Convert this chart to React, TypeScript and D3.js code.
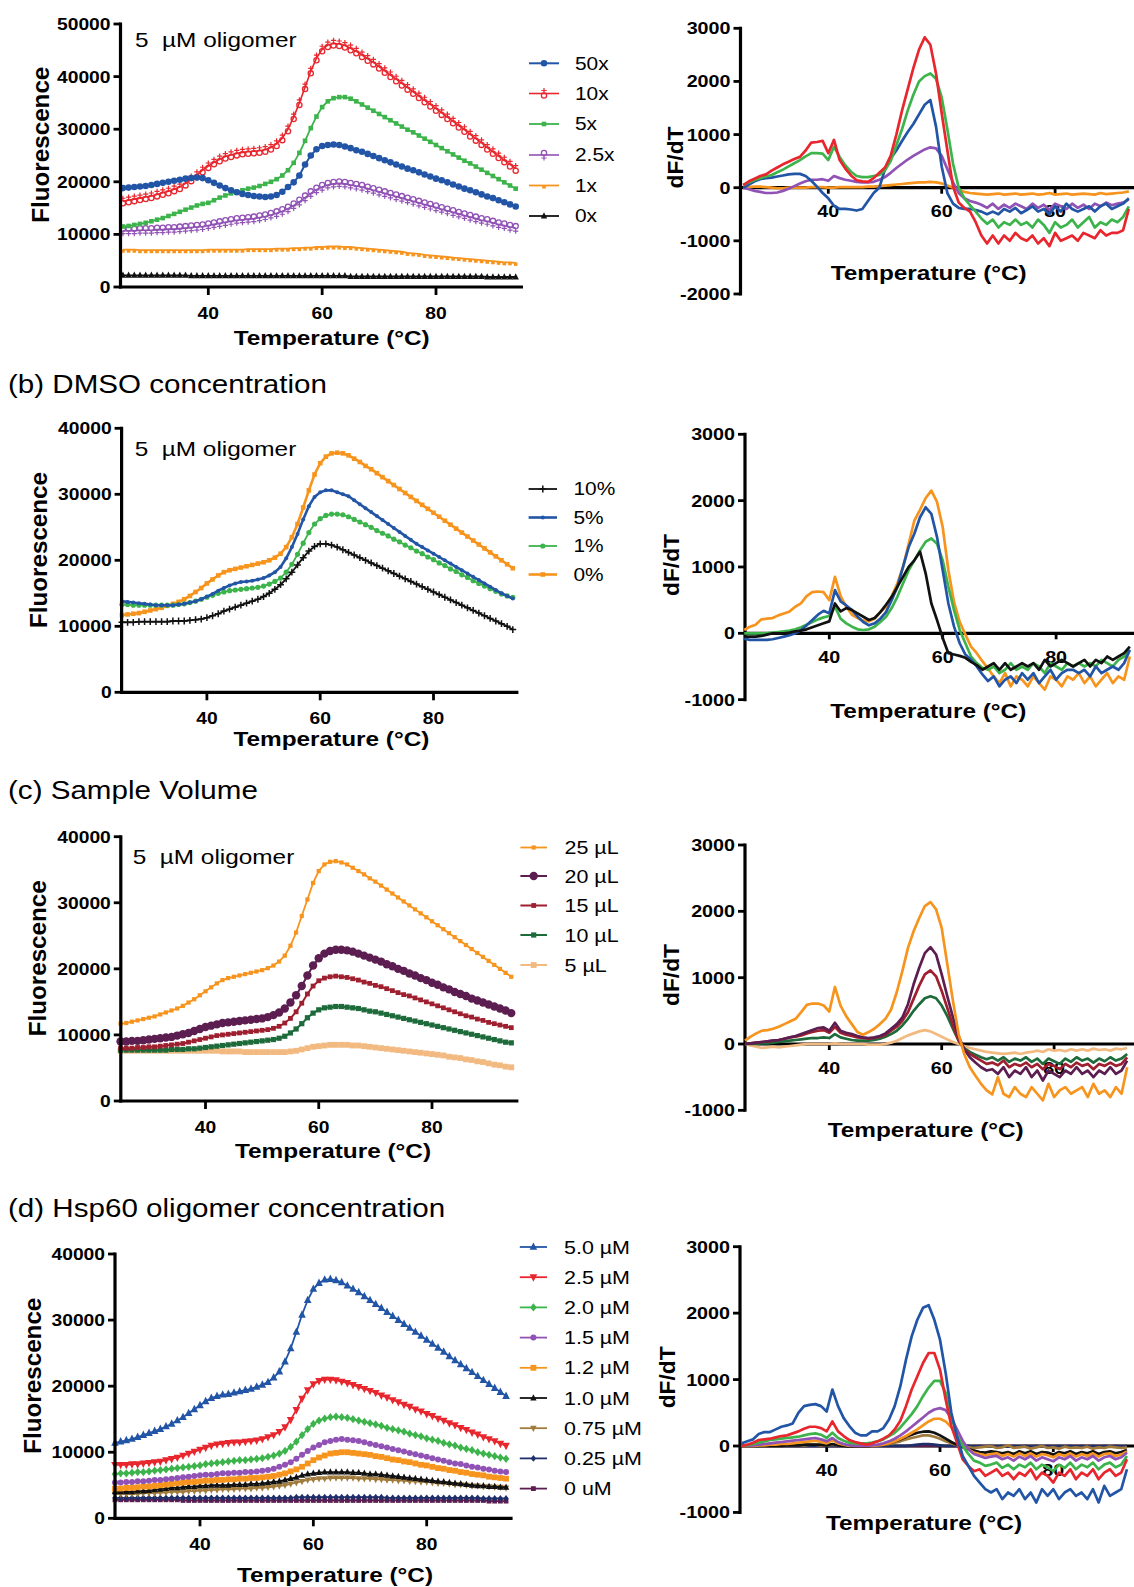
import React from 'react';
import * as d3 from 'd3';

const FONT = "'Liberation Sans', Arial, Helvetica, sans-serif";
const SX = 1.16; // horizontal stretch of the lettering in the reference

// ---------- temperature grids (°C) ----------
const T_F = [25,26,27,28,29,30,31,32,33,34,35,36,37,38,39,40,41,42,43,44,45,46,47,48,49,50,51,52,53,54,55,56,57,58,59,60,61,62,63,64,65,66,67,68,69,70,71,72,73,74,75,76,77,78,79,80,81,82,83,84,85,86,87,88,89,90,91,92,93,94];
const T_D = [25,26,27,28,29,30,31,32,33,34,35,36,37,38,39,40,41,42,43,44,45,46,47,48,49,50,51,52,53,54,55,56,57,58,59,60,61,62,63,64,65,66,67,68,69,70,71,72,73,74,75,76,77,78,79,80,81,82,83,84,85,86,87,88,89,90,91,92,93];

const X_TICKS = [40, 60, 80];
const Y_TICKS_50K = [0, 10000, 20000, 30000, 40000, 50000];
const Y_TICKS_40K = [0, 10000, 20000, 30000, 40000];
const Y_TICKS_D_A = [-2000, -1000, 0, 1000, 2000, 3000];
const Y_TICKS_D = [-1000, 0, 1000, 2000, 3000];

// ---------- (a) dye concentration ----------
const A_NAMES = ['50x', '10x', '5x', '2.5x', '1x', '0x'];
const A_F_50X = [
18800,18900,19000,19100,19200,19400,19600,19800,20000,20200,
20400,20600,20700,20800,20700,20300,19800,19300,18800,18400,
18000,17700,17500,17300,17200,17100,17200,17500,18100,19000,
19900,21200,23300,25000,26200,26800,27000,27100,27000,26700,
26400,26000,25700,25300,24900,24500,24100,23700,23300,22900,
22500,22200,21800,21400,21000,20600,20300,19900,19500,19100,
18700,18400,18000,17600,17200,16900,16500,16100,15700,15300];
const A_F_10X = [
16300,16500,16700,16900,17100,17300,17600,17900,18200,18600,
19000,19700,20500,21300,22200,23000,23700,24300,24800,25100,
25400,25600,25700,25800,25900,26100,26500,27200,28300,30000,
32300,35000,38000,41000,43500,45200,46000,46300,46200,45900,
45400,44800,44100,43400,42700,41900,41100,40300,39500,38700,
37900,37100,36300,35500,34700,33900,33100,32300,31500,30700,
29900,29000,28200,27400,26500,25700,24900,24100,23300,22500];
const A_F_5X = [
11500,11600,11800,12000,12200,12500,12800,13100,13500,13900,
14300,14700,15100,15500,15800,16000,16500,17000,17400,17800,
18100,18400,18700,18900,19200,19600,20000,20500,21200,22200,
23600,25500,27800,30200,32400,34200,35300,35900,36100,36100,
35800,35300,34700,34100,33500,32900,32300,31700,31100,30500,
29900,29400,28800,28200,27600,27000,26400,25800,25200,24600,
24000,23500,22900,22300,21700,21100,20500,19900,19300,18700];
const A_F_2P5X = [
10700,10700,10700,10800,10800,10800,10900,10900,11000,11000,
11100,11200,11300,11400,11500,11700,11900,12100,12300,12500,
12700,12800,12900,13000,13200,13400,13700,14000,14400,14900,
15500,16200,17000,17800,18500,19000,19400,19600,19700,19600,
19400,19200,19000,18700,18400,18100,17800,17500,17200,16900,
16600,16300,16000,15700,15400,15100,14800,14500,14200,13900,
13600,13300,13000,12700,12500,12200,11900,11700,11400,11200];
const A_F_1X = [
7100,7100,7100,7000,7000,7000,7000,7000,7000,7000,
7000,7000,7000,7000,7000,7100,7100,7100,7100,7100,
7100,7100,7200,7200,7200,7200,7200,7300,7300,7300,
7400,7400,7500,7500,7600,7600,7700,7700,7700,7600,
7600,7500,7400,7300,7200,7100,7000,6900,6800,6700,
6500,6400,6300,6100,6000,5900,5800,5700,5600,5500,
5400,5300,5200,5100,5000,4900,4800,4700,4700,4600];
const A_F_0X = [
2200,2200,2200,2200,2200,2200,2200,2200,2200,2200,
2200,2200,2100,2100,2100,2100,2100,2100,2100,2100,
2100,2100,2100,2100,2100,2100,2100,2100,2100,2100,
2100,2100,2100,2100,2100,2100,2100,2100,2100,2100,
2000,2000,2000,2000,2000,2000,2000,2000,2000,2000,
2000,2000,2000,2000,2000,2000,2000,2000,2000,2000,
2000,2000,2000,2000,1900,1900,1900,1900,1900,1900];

const A_D_RED = [
50,120,170,220,250,320,380,440,490,540,
580,700,850,860,880,650,900,520,360,230,
140,120,110,180,280,380,600,1000,1450,1850,
2250,2600,2830,2690,2150,1400,700,20,-280,-380,
-450,-650,-900,-1050,-900,-1050,-900,-1000,-850,-950,
-1000,-900,-1050,-950,-1100,-850,-1000,-950,-900,-1000,
-850,-900,-950,-800,-900,-850,-850,-800,-400];
const A_D_GREEN = [
50,100,145,180,210,240,290,340,400,460,
520,590,650,650,640,520,770,580,420,300,
220,200,200,220,240,330,500,800,1100,1450,
1750,2000,2100,2150,2050,1700,1100,450,0,-200,
-330,-450,-580,-680,-600,-750,-650,-700,-600,-700,
-650,-750,-600,-700,-850,-650,-750,-700,-600,-750,
-650,-550,-750,-650,-700,-600,-650,-550,-350];
const A_D_BLUE = [
0,60,120,160,180,190,210,230,250,260,
260,220,130,20,-100,-200,-340,-400,-400,-410,
-430,-400,-250,-100,0,350,550,700,880,1050,
1200,1380,1560,1650,1150,400,-100,-300,-380,-400,
-400,-420,-450,-500,-450,-500,-400,-450,-380,-480,
-420,-350,-450,-400,-500,-350,-450,-300,-400,-450,
-400,-350,-450,-350,-300,-400,-350,-300,-200];
const A_D_PURPLE = [
0,-30,-60,-80,-100,-100,-90,-60,-20,30,
80,120,150,150,160,130,220,180,150,130,
110,100,100,110,150,200,280,370,450,530,
600,660,720,760,740,600,350,100,-100,-200,
-250,-280,-320,-380,-300,-400,-320,-380,-300,-350,
-400,-300,-380,-320,-420,-300,-350,-400,-300,-380,
-320,-400,-300,-350,-280,-330,-300,-280,-220];
const A_D_ORANGE = [
0,10,20,20,10,0,-10,-10,0,0,
0,0,10,10,10,0,0,10,10,10,
10,10,20,20,30,40,50,60,70,80,
90,100,100,110,100,80,40,0,-40,-80,
-100,-110,-120,-130,-120,-110,-130,-120,-110,-130,
-120,-110,-130,-120,-100,-130,-120,-110,-130,-120,
-110,-120,-130,-100,-120,-110,-100,-90,-70];

// ---------- (b) DMSO concentration ----------
const B_NAMES = ['10%', '5%', '1%', '0%'];
const B_F_10 = [
10600,10600,10600,10700,10700,10700,10700,10700,10700,10800,
10800,10800,10900,11000,11100,11300,11600,11900,12300,12600,
12900,13200,13500,13800,14100,14500,15000,15600,16300,17200,
18200,19300,20400,21400,22100,22500,22500,22300,22000,21600,
21200,20800,20400,20000,19600,19200,18800,18400,18000,17600,
17200,16800,16400,16000,15600,15200,14800,14400,14000,13600,
13200,12800,12400,12000,11600,11200,10800,10400,10000,9500];
const B_F_5 = [
13800,13700,13600,13500,13400,13300,13200,13200,13200,13200,
13300,13400,13600,13800,14100,14500,14900,15400,15800,16200,
16500,16700,16800,16900,17100,17300,17700,18200,19000,20300,
22000,24000,26200,28200,29600,30300,30600,30600,30300,30000,
29700,29100,28500,27900,27300,26700,26100,25500,24900,24300,
23700,23100,22500,22000,21500,21000,20500,20000,19500,19000,
18500,18000,17500,17000,16500,16000,15500,15000,14600,14200];
const B_F_1 = [
13300,13300,13200,13200,13200,13200,13200,13200,13200,13200,
13300,13400,13600,13800,14100,14400,14700,15000,15200,15400,
15500,15600,15700,15800,15900,16100,16400,16800,17300,18200,
19400,20900,22600,24200,25500,26300,26800,27000,27000,26900,
26600,26200,25800,25400,25000,24500,24100,23700,23200,22800,
22300,21900,21400,21000,20500,20100,19600,19200,18700,18300,
17800,17400,16900,16500,16100,15700,15300,14900,14600,14400];
const B_F_0 = [
11700,11800,11900,12000,12200,12400,12600,12800,13100,13400,
13700,14100,14600,15200,15800,16500,17100,17700,18200,18500,
18700,18900,19100,19300,19500,19700,20000,20400,21000,22000,
23500,25500,28000,30600,33000,34700,35700,36200,36300,36200,
35900,35400,34900,34300,33800,33200,32600,32000,31400,30800,
30200,29600,29000,28400,27800,27200,26600,26000,25400,24800,
24200,23600,23000,22400,21800,21200,20600,20000,19400,18800];

const B_D_ORANGE = [
50,100,130,210,220,230,270,300,330,400,
450,560,620,630,620,500,850,560,400,280,
230,190,180,220,320,400,560,750,1000,1350,
1700,1860,2040,2150,1980,1600,950,470,170,-20,
-200,-300,-420,-530,-650,-750,-600,-800,-650,-700,
-800,-650,-750,-850,-650,-700,-800,-650,-700,-600,
-750,-650,-800,-700,-600,-750,-650,-700,-350];
const B_D_BLUE = [
-80,-100,-100,-100,-100,-90,-70,-50,-30,0,
50,120,200,280,340,300,650,480,420,350,
250,170,120,150,220,320,500,700,1000,1300,
1500,1750,1900,1800,1450,950,450,100,-150,-320,
-400,-500,-620,-720,-650,-800,-700,-650,-750,-600,
-700,-600,-750,-650,-550,-700,-600,-550,-550,-600,
-550,-650,-500,-600,-550,-500,-550,-450,-250];
const B_D_GREEN = [
0,0,0,0,0,10,20,30,40,60,
90,130,170,210,240,260,400,220,150,100,
60,50,60,100,170,250,380,550,750,950,
1100,1250,1380,1430,1350,1100,700,350,50,-150,
-350,-450,-520,-550,-500,-600,-550,-450,-550,-500,
-550,-450,-500,-600,-450,-500,-550,-450,-500,-450,
-500,-450,-500,-400,-450,-500,-400,-350,-250];
const B_D_BLACK = [
-50,-50,-50,-40,-20,0,0,0,10,30,
40,60,90,120,150,180,450,330,380,350,
300,250,200,230,320,430,550,700,850,1000,
1100,1230,900,450,200,-70,-300,-320,-340,-370,
-430,-480,-550,-500,-450,-550,-450,-550,-500,-450,
-500,-450,-550,-400,-500,-450,-400,-450,-500,-450,
-400,-500,-400,-450,-350,-400,-350,-300,-200];

// ---------- (c) sample volume ----------
const C_NAMES = ['25 µL', '20 µL', '15 µL', '10 µL', '5 µL'];
const C_F_25 = [
11700,11800,12000,12200,12400,12600,12800,13100,13400,13700,
14000,14400,14900,15400,16000,16600,17200,17800,18300,18600,
18800,19000,19200,19400,19600,19800,20100,20500,21100,22000,
23500,25500,28000,30500,33000,34800,35800,36200,36300,36100,
35800,35300,34800,34300,33700,33200,32600,32000,31400,30800,
30200,29600,29000,28400,27800,27200,26600,26000,25400,24800,
24200,23600,23000,22400,21800,21200,20600,20000,19400,18800];
const C_F_20 = [
9000,9000,9100,9100,9200,9300,9400,9500,9600,9700,
9900,10100,10300,10600,10900,11200,11400,11600,11800,11900,
12000,12100,12200,12300,12400,12500,12700,13000,13400,14000,
14900,16000,17400,19000,20500,21600,22300,22700,22900,22900,
22800,22600,22300,22000,21700,21400,21100,20700,20400,20000,
19700,19300,19000,18600,18300,17900,17600,17200,16900,16500,
16200,15900,15500,15200,14900,14600,14300,14000,13700,13300];
const C_F_15 = [
8000,8000,8000,8100,8100,8200,8200,8300,8400,8500,
8600,8700,8900,9100,9300,9500,9700,9900,10000,10100,
10200,10300,10400,10500,10600,10700,10800,11000,11300,11800,
12500,13500,14800,16200,17400,18200,18600,18800,18900,18800,
18700,18500,18300,18000,17800,17500,17300,17000,16700,16400,
16100,15900,15600,15300,15000,14700,14400,14100,13800,13500,
13200,12900,12700,12400,12200,11900,11700,11500,11300,11100];
const C_F_10 = [
7700,7700,7700,7700,7700,7700,7700,7700,7700,7800,
7800,7800,7900,7900,8000,8100,8200,8300,8400,8500,
8600,8700,8800,8900,9000,9100,9200,9300,9500,9800,
10300,10900,11700,12600,13300,13800,14100,14200,14300,14300,
14200,14100,14000,13800,13600,13500,13300,13100,12900,12700,
12500,12300,12100,11900,11700,11500,11300,11100,10900,10700,
10500,10300,10100,9900,9700,9500,9300,9100,8900,8800];
const C_F_5 = [
7600,7600,7600,7600,7600,7600,7600,7600,7600,7600,
7600,7600,7600,7600,7600,7600,7600,7600,7500,7500,
7500,7500,7400,7400,7400,7400,7400,7400,7400,7400,
7500,7600,7800,8000,8200,8300,8400,8500,8500,8500,
8500,8400,8400,8300,8200,8100,8000,7900,7800,7700,
7600,7500,7400,7300,7200,7100,7000,6900,6700,6600,
6500,6300,6200,6000,5900,5700,5500,5400,5200,5100];

const C_D_ORANGE = [
50,110,160,200,210,230,260,300,340,380,
480,590,610,610,580,490,860,580,420,300,
180,140,180,230,300,380,520,780,1100,1450,
1700,1900,2080,2140,2030,1750,1200,650,150,-150,
-350,-480,-600,-700,-760,-500,-750,-800,-650,-750,
-800,-650,-750,-850,-600,-800,-700,-650,-750,-700,
-650,-800,-600,-750,-700,-800,-650,-750,-350];
const C_D_PURPLE = [
0,10,20,30,40,50,60,80,100,120,
150,180,210,240,250,200,320,200,170,150,
120,100,90,100,120,160,230,300,400,600,
900,1150,1370,1460,1350,1050,720,400,120,-80,
-200,-280,-350,-400,-380,-450,-350,-500,-400,-450,
-350,-500,-400,-550,-400,-450,-500,-400,-450,-350,
-450,-400,-500,-400,-450,-350,-450,-400,-250];
const C_D_RED = [
0,10,20,30,40,50,60,80,100,110,
130,160,180,200,210,170,260,170,140,120,
100,90,80,90,110,140,200,260,350,480,
680,880,1050,1110,1020,800,540,280,60,-80,
-150,-200,-250,-300,-280,-320,-250,-350,-300,-330,
-280,-350,-300,-380,-300,-330,-380,-300,-350,-280,
-330,-300,-380,-300,-330,-280,-330,-300,-200];
const C_D_GREEN = [
0,0,0,10,10,20,30,40,50,60,
70,80,90,90,100,90,150,100,80,60,
50,50,50,60,80,110,150,200,280,380,
500,600,690,720,690,580,420,230,50,-60,
-120,-160,-200,-230,-200,-250,-200,-270,-220,-250,
-200,-270,-220,-300,-220,-260,-300,-220,-270,-200,
-250,-220,-280,-220,-260,-200,-250,-220,-150];
const C_D_PEACH = [
0,-20,-40,-60,-50,-40,-50,-40,-30,-20,
-10,0,0,0,0,0,10,0,0,0,
0,0,-10,-10,-10,0,20,50,90,130,
160,190,210,190,150,110,70,30,0,-30,
-60,-80,-100,-120,-130,-140,-150,-140,-130,-150,
-130,-120,-100,-120,-80,-100,-90,-110,-80,-100,
-80,-100,-70,-90,-80,-100,-70,-80,-60];

// ---------- (d) Hsp60 oligomer concentration ----------
const D_NAMES = ['5.0 µM', '2.5 µM', '2.0 µM', '1.5 µM', '1.2 µM', '1.0 µM', '0.75 µM', '0.25 µM', '0 uM'];
const D_F_50 = [
11400,11600,11800,12000,12300,12600,12900,13200,13500,13900,
14300,14800,15300,15900,16500,17100,17700,18200,18500,18700,
18800,19000,19200,19400,19600,19900,20200,20600,21300,22200,
23700,25700,28200,30800,33000,34700,35600,36100,36200,36000,
35700,35200,34700,34200,33600,33000,32400,31800,31200,30600,
30000,29400,28800,28200,27600,27000,26400,25800,25200,24500,
23900,23300,22700,22100,21500,20900,20300,19700,19100,18500];
const D_F_25 = [
8100,8100,8100,8200,8200,8300,8400,8500,8600,8800,
9000,9200,9500,9800,10100,10400,10700,11000,11200,11300,
11400,11500,11500,11600,11700,11800,12000,12300,12600,13100,
13800,14900,16400,18100,19400,20300,20800,21000,21000,20900,
20700,20500,20200,19900,19600,19300,19000,18600,18300,17900,
17600,17200,16900,16500,16200,15800,15500,15100,14800,14400,
14100,13700,13400,13000,12700,12300,12000,11700,11300,11000];
const D_F_20 = [
6700,6800,6800,6900,7000,7000,7100,7200,7300,7400,
7500,7600,7700,7800,7900,8000,8200,8300,8400,8500,
8600,8700,8800,8800,8900,9000,9100,9300,9500,9800,
10200,10800,11600,12600,13500,14300,14800,15100,15300,15400,
15300,15200,15000,14800,14600,14400,14200,14000,13700,13500,
13300,13100,12800,12600,12400,12100,11900,11700,11400,11200,
11000,10700,10500,10300,10000,9800,9600,9400,9200,9000];
const D_F_15 = [
5400,5400,5500,5500,5600,5600,5700,5800,5800,5900,
6000,6100,6200,6300,6400,6500,6600,6600,6700,6800,
6800,6900,6900,7000,7000,7100,7200,7300,7500,7800,
8100,8500,9000,9600,10200,10700,11100,11500,11700,11900,
12000,11900,11800,11700,11500,11300,11100,10900,10700,10500,
10300,10100,9900,9700,9500,9300,9100,8900,8700,8500,
8300,8200,8000,7800,7700,7500,7400,7200,7100,7000];
const D_F_12 = [
4500,4500,4600,4600,4700,4800,4800,4900,5000,5100,
5200,5300,5400,5500,5500,5600,5700,5700,5800,5800,
5900,5900,6000,6000,6100,6100,6200,6300,6400,6600,
6800,7100,7400,7800,8300,8800,9200,9500,9800,9900,
10000,10000,9900,9800,9700,9600,9400,9300,9100,8900,
8800,8600,8500,8300,8100,8000,7800,7600,7500,7300,
7200,7000,6900,6700,6600,6500,6300,6200,6100,6000];
const D_F_10 = [
4000,4000,4000,4000,4100,4100,4200,4300,4400,4500,
4600,4600,4700,4800,4800,4900,4900,5000,5000,5000,
5000,5100,5100,5100,5200,5200,5300,5400,5500,5600,
5800,6000,6200,6500,6700,6800,6900,7000,7000,7000,
7000,7000,6900,6900,6800,6700,6700,6600,6500,6400,
6300,6200,6100,6000,5900,5800,5700,5600,5500,5400,
5300,5200,5100,5000,4900,4900,4800,4800,4700,4700];
const D_F_075 = [
3700,3700,3700,3700,3700,3800,3800,3800,3900,3900,
4000,4000,4000,4100,4100,4200,4200,4300,4300,4400,
4400,4400,4500,4500,4500,4600,4600,4700,4800,4900,
5000,5200,5400,5600,5800,5900,6000,6000,6100,6100,
6100,6100,6100,6000,6000,6000,5900,5900,5800,5800,
5700,5700,5600,5600,5500,5500,5400,5300,5300,5200,
5100,5100,5000,4900,4900,4800,4800,4700,4700,4600];
const D_F_025 = [
3100,3100,3100,3100,3100,3100,3100,3100,3100,3100,
3100,3100,3100,3100,3100,3100,3100,3100,3100,3100,
3100,3100,3100,3100,3100,3100,3100,3100,3100,3100,
3100,3100,3200,3200,3200,3200,3200,3200,3200,3200,
3200,3200,3200,3200,3200,3200,3200,3200,3100,3100,
3100,3100,3100,3100,3100,3100,3100,3100,3100,3100,
3100,3100,3100,3100,3100,3000,3000,3000,3000,3000];
const D_F_0 = [
2800,2800,2800,2800,2800,2800,2800,2800,2800,2800,
2800,2800,2700,2700,2700,2700,2700,2700,2700,2700,
2700,2700,2700,2700,2700,2700,2700,2700,2700,2700,
2700,2700,2700,2700,2700,2700,2700,2700,2700,2700,
2700,2700,2700,2700,2700,2700,2700,2700,2700,2700,
2700,2700,2700,2700,2700,2700,2700,2700,2700,2700,
2700,2700,2700,2700,2700,2700,2600,2600,2600,2600];

const D_D_BLUE = [
40,70,100,180,210,210,250,290,310,340,
500,600,620,630,600,520,850,600,420,300,
200,160,160,220,220,270,400,600,900,1300,
1650,1900,2080,2120,1900,1600,1100,500,150,-150,
-300,-450,-550,-650,-700,-650,-800,-700,-750,-650,
-800,-700,-850,-650,-750,-650,-800,-700,-650,-750,
-700,-800,-650,-850,-600,-750,-700,-650,-350];
const D_D_RED = [
0,20,50,90,100,110,130,150,160,190,
220,260,290,290,270,220,370,220,150,90,
60,40,20,40,70,110,160,250,380,600,
850,1050,1250,1400,1400,1150,700,300,50,-200,
-300,-380,-350,-450,-400,-350,-450,-400,-500,-400,
-450,-350,-500,-400,-450,-550,-400,-450,-350,-500,
-400,-450,-350,-500,-400,-350,-450,-400,-200];
const D_D_GREEN = [
0,10,30,50,70,90,100,110,120,130,
140,160,180,190,170,120,200,120,80,50,
40,40,40,50,70,100,150,200,280,380,
480,600,750,880,980,980,800,450,150,0,
-120,-220,-250,-300,-280,-250,-330,-280,-350,-280,
-320,-250,-350,-280,-320,-380,-280,-330,-250,-350,
-280,-320,-250,-350,-280,-250,-320,-280,-150];
const D_D_PURPLE = [
0,0,10,20,30,40,50,60,70,80,
90,100,110,120,100,70,120,60,30,10,
0,0,0,10,20,40,70,110,160,220,
290,360,430,500,550,570,540,420,250,80,
-50,-120,-150,-180,-160,-150,-200,-170,-220,-160,
-200,-150,-220,-170,-200,-230,-170,-200,-150,-220,
-170,-200,-150,-220,-170,-150,-200,-170,-100];
const D_D_ORANGE = [
0,0,0,10,10,20,20,30,30,40,
50,60,70,80,60,40,90,40,20,0,
0,0,0,0,10,20,40,70,110,150,
200,250,310,370,410,410,370,280,160,40,
-50,-100,-120,-140,-120,-110,-150,-120,-160,-110,
-150,-110,-160,-120,-140,-170,-120,-150,-110,-160,
-120,-150,-110,-160,-120,-110,-150,-130,-80];
const D_D_BLACK = [
0,0,0,0,0,0,0,0,10,10,
10,20,20,20,20,10,30,10,0,-10,
-10,-10,-10,0,10,20,40,70,100,140,
170,200,215,220,200,160,110,60,20,-20,
-50,-70,-90,-100,-80,-90,-110,-90,-120,-80,
-110,-80,-120,-90,-100,-130,-90,-110,-80,-120,
-90,-110,-80,-120,-90,-80,-110,-90,-60];
const D_D_BROWN = [
0,0,0,0,0,0,0,0,10,10,
10,10,20,20,10,10,20,10,0,0,
0,0,0,0,10,20,30,50,70,100,
120,140,160,160,140,110,70,40,10,-10,
-20,-30,-20,-10,0,-30,-20,10,-30,-20,
-10,-40,-20,0,-30,-20,-40,-10,-30,-20,
-30,-10,-40,-20,-30,-10,-20,-30,-20];
const D_D_NAVY = [
0,0,0,0,0,0,0,0,0,0,
0,0,0,0,0,0,0,0,0,0,
0,0,0,0,0,0,0,0,0,0,
10,20,30,30,20,10,0,0,0,0,
0,-10,0,-10,0,-10,0,-10,0,-10,
0,-10,0,-10,0,-10,0,-10,0,-10,
0,-10,0,-10,0,-10,0,-10,0];
const D_D_ZERO = [
0,0,0,0,0,0,0,0,0,0,
0,0,0,0,0,0,0,0,0,0,
0,0,0,0,0,0,0,0,0,0,
0,0,0,0,0,0,0,0,0,0,
0,0,0,0,0,0,0,0,0,0,
0,0,0,0,0,0,0,0,0,0,
0,0,0,0,0,0,0,0,0];

// ---------- colours ----------
const BLUE = '#2255a6';
const RED = '#e8262d';
const GREEN = '#3cb44b';
const PURPLE = '#9152b5';
const ORANGE = '#f7941d';
const BLACK = '#111111';
const PLUM = '#5c1d50';
const WINE = '#9e1f2f';
const FOREST = '#1d6a3a';
const PEACH = '#f2ba80';
const BROWN = '#a07b3c';
const NAVY = '#1f2f6b';

type Mk = 'circle' | 'square' | 'triUp' | 'triDown' | 'diamond' | 'plus' | 'ringPlusUp' | 'ringPlusDown' | 'bar';

interface FSeries { name: string; values: number[]; color: string; mk: Mk; size: number; lw: number; }
interface DSeries { values: number[]; color: string; }

function Marker({ mk, x, y, c, s }: { mk: Mk; x: number; y: number; c: string; s: number }) {
  switch (mk) {
    case 'circle':
      return <circle cx={x} cy={y} r={s} fill={c} />;
    case 'square':
      return <rect x={x - s} y={y - s} width={2 * s} height={2 * s} fill={c} />;
    case 'bar':
      return <rect x={x - s} y={y - 0.2 * s} width={2 * s} height={1.9 * s} fill={c} />;
    case 'triUp':
      return <path d={`M${x},${y - 1.2 * s}L${x + s},${y + 0.75 * s}L${x - s},${y + 0.75 * s}Z`} fill={c} />;
    case 'triDown':
      return <path d={`M${x},${y + 1.2 * s}L${x + s},${y - 0.75 * s}L${x - s},${y - 0.75 * s}Z`} fill={c} />;
    case 'diamond':
      return <path d={`M${x},${y - 1.25 * s}L${x + s},${y}L${x},${y + 1.25 * s}L${x - s},${y}Z`} fill={c} />;
    case 'plus':
      return <path d={`M${x - s},${y}H${x + s}M${x},${y - s}V${y + s}`} stroke={c} strokeWidth={1.5} fill="none" />;
    case 'ringPlusUp':
      return (
        <g>
          <circle cx={x} cy={y + 2} r={s} fill="none" stroke={c} strokeWidth={1.3} />
          <path d={`M${x - s},${y - 3}H${x + s}M${x},${y - 3 - s}V${y - 3 + s}`} stroke={c} strokeWidth={1.2} />
        </g>
      );
    case 'ringPlusDown':
      return (
        <g>
          <circle cx={x} cy={y - 2} r={s} fill="none" stroke={c} strokeWidth={1.3} />
          <path d={`M${x - s},${y + 3}H${x + s}M${x},${y + 3 - s}V${y + 3 + s}`} stroke={c} strokeWidth={1.2} />
        </g>
      );
    default:
      return null;
  }
}

// text with the reference's horizontal stretch
function SText({ x, y, size, anchor = 'start', bold = false, sx = SX, children }:
  { x: number; y: number; size: number; anchor?: string; bold?: boolean; sx?: number; children: React.ReactNode }) {
  return (
    <text transform={`translate(${x},${y}) scale(${sx},1)`} fontFamily={FONT} fontSize={size}
      textAnchor={anchor as any} fontWeight={bold ? 'bold' : 'normal'} style={{ whiteSpace: 'pre' }}>
      {children}
    </text>
  );
}

interface LeftCfg {
  px40: number; px80: number; axisL: number; axisR: number;
  py0: number; pyTop: number; yMax: number; yTicks: number[];
  series: FSeries[];
  legendY: number[]; legX0: number; legX1: number; legTextX: number; legFont: number;
  note?: { x: number; y: number };
  yTitle: { x: number; y: number };
  xTitle: { x: number; y: number };
}

function LeftPanel({ cfg }: { cfg: LeftCfg }) {
  const x = d3.scaleLinear().domain([40, 80]).range([cfg.px40, cfg.px80]);
  const y = d3.scaleLinear().domain([0, cfg.yMax]).range([cfg.py0, cfg.pyTop]);
  const line = d3.line<number>().x((_d, i) => x(T_F[i])).y((d) => y(d));
  const order = cfg.series.map((_s, i) => cfg.series.length - 1 - i);
  return (
    <g>
      {order.map((i) => {
        const s = cfg.series[i];
        return (
          <g key={'s' + i}>
            <path d={line(s.values) || ''} fill="none" stroke={s.color} strokeWidth={s.lw} />
            {s.values.map((v, j) => (
              <Marker key={j} mk={s.mk} x={x(T_F[j])} y={y(v)} c={s.color} s={s.size} />
            ))}
          </g>
        );
      })}
      <line x1={cfg.axisL} x2={cfg.axisL} y1={y(cfg.yMax) - 1.5} y2={cfg.py0 + 1.6} stroke="#000" strokeWidth={3.2} />
      <line x1={cfg.axisL - 1.6} x2={cfg.axisR} y1={cfg.py0} y2={cfg.py0} stroke="#000" strokeWidth={3.2} />
      {cfg.yTicks.map((t) => (
        <g key={'yt' + t}>
          <line x1={cfg.axisL - 7} x2={cfg.axisL} y1={y(t)} y2={y(t)} stroke="#000" strokeWidth={2.8} />
          <SText x={cfg.axisL - 10} y={y(t) + 6} size={16.6} anchor="end" bold>{String(t)}</SText>
        </g>
      ))}
      {X_TICKS.map((t) => (
        <g key={'xt' + t}>
          <line x1={x(t)} x2={x(t)} y1={cfg.py0} y2={cfg.py0 + 8} stroke="#000" strokeWidth={2.8} />
          <SText x={x(t)} y={cfg.py0 + 31.5} size={16.6} anchor="middle" bold>{String(t)}</SText>
        </g>
      ))}
      <SText x={cfg.xTitle.x} y={cfg.xTitle.y} size={21} anchor="middle" bold>Temperature (°C)</SText>
      <text transform={`translate(${cfg.yTitle.x},${cfg.yTitle.y}) rotate(-90)`} textAnchor="middle" fontWeight="bold"
        fontFamily={FONT} fontSize={24} textLength={156} lengthAdjust="spacingAndGlyphs">Fluorescence</text>
      {cfg.note && (
        <SText x={cfg.note.x} y={cfg.note.y} size={21}>{'5  µM oligomer'}</SText>
      )}
      {cfg.series.map((s, i) => {
        const ly = cfg.legendY[i];
        return (
          <g key={'lg' + i}>
            <line x1={cfg.legX0} x2={cfg.legX1} y1={ly} y2={ly} stroke={s.color} strokeWidth={s.lw} />
            <Marker mk={s.mk} x={(cfg.legX0 + cfg.legX1) / 2} y={ly} c={s.color} s={s.size} />
            <SText x={cfg.legTextX} y={ly + cfg.legFont * 0.36} size={cfg.legFont}>{s.name}</SText>
          </g>
        );
      })}
    </g>
  );
}

interface RightCfg {
  px40: number; px60: number; axisL: number; py0: number; py3000: number; yTicks: number[];
  series: DSeries[];
  yTitle: { x: number; y: number };
  xTitle: { x: number; y: number };
}

function RightPanel({ cfg }: { cfg: RightCfg }) {
  const x = d3.scaleLinear().domain([40, 60]).range([cfg.px40, cfg.px60]);
  const y = d3.scaleLinear().domain([0, 3000]).range([cfg.py0, cfg.py3000]);
  const line = d3.line<number>().x((_d, i) => x(T_D[i])).y((d) => y(d));
  const yMin = d3.min(cfg.yTicks) as number;
  return (
    <g>
      <line x1={cfg.axisL} x2={cfg.axisL} y1={y(3000) - 1.5} y2={y(yMin) + 1.5} stroke="#000" strokeWidth={3.2} />
      <line x1={cfg.axisL} x2={1140} y1={cfg.py0} y2={cfg.py0} stroke="#000" strokeWidth={3.2} />
      {cfg.yTicks.map((t) => (
        <g key={'yt' + t}>
          <line x1={cfg.axisL - 7} x2={cfg.axisL} y1={y(t)} y2={y(t)} stroke="#000" strokeWidth={2.8} />
          <SText x={cfg.axisL - 10} y={y(t) + 6} size={17} anchor="end" bold>{String(t)}</SText>
        </g>
      ))}
      {X_TICKS.map((t) => (
        <g key={'xt' + t}>
          <line x1={x(t)} x2={x(t)} y1={cfg.py0} y2={cfg.py0 + 6} stroke="#000" strokeWidth={2.8} />
          <SText x={x(t)} y={cfg.py0 + 29.5} size={17} anchor="middle" bold>{String(t)}</SText>
        </g>
      ))}
      {cfg.series.map((s, i) => (
        <path key={'d' + i} d={line(s.values) || ''} fill="none" stroke={s.color} strokeWidth={2.7}
          strokeLinejoin="round" />
      ))}
      <SText x={cfg.xTitle.x} y={cfg.xTitle.y} size={21} anchor="middle" bold>Temperature (°C)</SText>
      <text transform={`translate(${cfg.yTitle.x},${cfg.yTitle.y}) rotate(-90)`} textAnchor="middle" fontWeight="bold"
        fontFamily={FONT} fontSize={22} textLength={62} lengthAdjust="spacingAndGlyphs">dF/dT</text>
    </g>
  );
}

// ---------- panel configurations ----------
const A_LEFT: LeftCfg = {
  px40: 208.3, px80: 436, axisL: 120.5, axisR: 523, py0: 287, pyTop: 24, yMax: 50000, yTicks: Y_TICKS_50K,
  series: [
    { name: A_NAMES[0], values: A_F_50X, color: BLUE, mk: 'circle', size: 3.3, lw: 2 },
    { name: A_NAMES[1], values: A_F_10X, color: RED, mk: 'ringPlusUp', size: 2.6, lw: 1.6 },
    { name: A_NAMES[2], values: A_F_5X, color: GREEN, mk: 'square', size: 2.3, lw: 1.8 },
    { name: A_NAMES[3], values: A_F_2P5X, color: PURPLE, mk: 'ringPlusDown', size: 2.6, lw: 1.6 },
    { name: A_NAMES[4], values: A_F_1X, color: ORANGE, mk: 'bar', size: 1.8, lw: 1.8 },
    { name: A_NAMES[5], values: A_F_0X, color: BLACK, mk: 'triUp', size: 3.2, lw: 1.8 },
  ],
  legendY: [63.3, 93.5, 124, 155, 185.5, 216], legX0: 529, legX1: 559, legTextX: 575, legFont: 18,
  note: { x: 135, y: 46.7 },
  yTitle: { x: 49, y: 144.7 }, xTitle: { x: 331.7, y: 345 },
};

const A_RIGHT: RightCfg = {
  px40: 828.3, px60: 941.7, axisL: 740.5, py0: 187.7, py3000: 28.3, yTicks: Y_TICKS_D_A,
  series: [
    { values: A_D_ORANGE, color: ORANGE },
    { values: A_D_PURPLE, color: PURPLE },
    { values: A_D_BLUE, color: BLUE },
    { values: A_D_GREEN, color: GREEN },
    { values: A_D_RED, color: RED },
  ],
  yTitle: { x: 683, y: 157.5 }, xTitle: { x: 928.7, y: 280 },
};

const B_LEFT: LeftCfg = {
  px40: 206.9, px80: 433.5, axisL: 121.6, axisR: 518.4, py0: 692.3, pyTop: 428.3, yMax: 40000, yTicks: Y_TICKS_40K,
  series: [
    { name: B_NAMES[0], values: B_F_10, color: BLACK, mk: 'plus', size: 3.4, lw: 1.8 },
    { name: B_NAMES[1], values: B_F_5, color: BLUE, mk: 'circle', size: 2, lw: 2.6 },
    { name: B_NAMES[2], values: B_F_1, color: GREEN, mk: 'circle', size: 2.6, lw: 1.8 },
    { name: B_NAMES[3], values: B_F_0, color: ORANGE, mk: 'square', size: 2.3, lw: 2.6 },
  ],
  legendY: [489, 517.5, 546, 574.5], legX0: 528.6, legX1: 557, legTextX: 573.5, legFont: 18,
  note: { x: 134.7, y: 456 },
  yTitle: { x: 47, y: 550 }, xTitle: { x: 331.4, y: 746 },
};

const B_RIGHT: RightCfg = {
  px40: 829.3, px60: 942.7, axisL: 745, py0: 633.3, py3000: 434.3, yTicks: Y_TICKS_D,
  series: [
    { values: B_D_ORANGE, color: ORANGE },
    { values: B_D_GREEN, color: GREEN },
    { values: B_D_BLUE, color: BLUE },
    { values: B_D_BLACK, color: BLACK },
  ],
  yTitle: { x: 679, y: 565 }, xTitle: { x: 928.3, y: 718.3 },
};

const C_LEFT: LeftCfg = {
  px40: 205.5, px80: 432, axisL: 120.8, axisR: 518.4, py0: 1101, pyTop: 836.7, yMax: 40000, yTicks: Y_TICKS_40K,
  series: [
    { name: C_NAMES[0], values: C_F_25, color: ORANGE, mk: 'square', size: 2.1, lw: 1.8 },
    { name: C_NAMES[1], values: C_F_20, color: PLUM, mk: 'circle', size: 4.2, lw: 2 },
    { name: C_NAMES[2], values: C_F_15, color: WINE, mk: 'square', size: 2.4, lw: 2 },
    { name: C_NAMES[3], values: C_F_10, color: FOREST, mk: 'square', size: 2.6, lw: 2 },
    { name: C_NAMES[4], values: C_F_5, color: PEACH, mk: 'square', size: 2.9, lw: 2 },
  ],
  legendY: [847.5, 876, 905.5, 935, 965], legX0: 520.4, legX1: 547, legTextX: 564.5, legFont: 18.5,
  note: { x: 132.7, y: 864 },
  yTitle: { x: 46, y: 958.3 }, xTitle: { x: 333, y: 1158 },
};

const C_RIGHT: RightCfg = {
  px40: 829.3, px60: 941.7, axisL: 745, py0: 1044, py3000: 845, yTicks: Y_TICKS_D,
  series: [
    { values: C_D_PEACH, color: PEACH },
    { values: C_D_GREEN, color: FOREST },
    { values: C_D_RED, color: WINE },
    { values: C_D_PURPLE, color: PLUM },
    { values: C_D_ORANGE, color: ORANGE },
  ],
  yTitle: { x: 679, y: 975 }, xTitle: { x: 925.7, y: 1136.7 },
};

const D_LEFT: LeftCfg = {
  px40: 200, px80: 426.7, axisL: 115, axisR: 512.6, py0: 1518.3, pyTop: 1254, yMax: 40000, yTicks: Y_TICKS_40K,
  series: [
    { name: D_NAMES[0], values: D_F_50, color: BLUE, mk: 'triUp', size: 3.8, lw: 1.8 },
    { name: D_NAMES[1], values: D_F_25, color: RED, mk: 'triDown', size: 3.8, lw: 1.8 },
    { name: D_NAMES[2], values: D_F_20, color: GREEN, mk: 'diamond', size: 3.3, lw: 1.8 },
    { name: D_NAMES[3], values: D_F_15, color: PURPLE, mk: 'circle', size: 3, lw: 1.8 },
    { name: D_NAMES[4], values: D_F_12, color: ORANGE, mk: 'square', size: 2.9, lw: 1.8 },
    { name: D_NAMES[5], values: D_F_10, color: BLACK, mk: 'triUp', size: 3.2, lw: 1.8 },
    { name: D_NAMES[6], values: D_F_075, color: BROWN, mk: 'triDown', size: 3.2, lw: 1.8 },
    { name: D_NAMES[7], values: D_F_025, color: NAVY, mk: 'diamond', size: 2.7, lw: 1.8 },
    { name: D_NAMES[8], values: D_F_0, color: PLUM, mk: 'square', size: 2.4, lw: 1.8 },
  ],
  legendY: [1247, 1277.2, 1307.4, 1337.6, 1367.8, 1398, 1428.2, 1458.4, 1488.6], legX0: 519.8, legX1: 547,
  legTextX: 564, legFont: 18.5,
  yTitle: { x: 41, y: 1375.7 }, xTitle: { x: 335, y: 1581.7 },
};

const D_RIGHT: RightCfg = {
  px40: 826.7, px60: 940, axisL: 740, py0: 1446, py3000: 1246.7, yTicks: Y_TICKS_D,
  series: [
    { values: D_D_ZERO, color: PLUM },
    { values: D_D_NAVY, color: NAVY },
    { values: D_D_BROWN, color: BROWN },
    { values: D_D_BLACK, color: BLACK },
    { values: D_D_ORANGE, color: ORANGE },
    { values: D_D_PURPLE, color: PURPLE },
    { values: D_D_GREEN, color: GREEN },
    { values: D_D_RED, color: RED },
    { values: D_D_BLUE, color: BLUE },
  ],
  yTitle: { x: 675, y: 1377.3 }, xTitle: { x: 924, y: 1530 },
};

const TITLES = [
  { text: '(b) DMSO concentration', y: 393 },
  { text: '(c) Sample Volume', y: 799 },
  { text: '(d) Hsp60 oligomer concentration', y: 1216.7 },
];

export default function App() {
  return (
    <svg width={1134} height={1587} viewBox="0 0 1134 1587"
      style={{ position: 'absolute', left: 0, top: 0, background: '#fff' }}>
      <rect x={0} y={0} width={1134} height={1587} fill="#fff" />
      <LeftPanel cfg={A_LEFT} />
      <RightPanel cfg={A_RIGHT} />
      <LeftPanel cfg={B_LEFT} />
      <RightPanel cfg={B_RIGHT} />
      <LeftPanel cfg={C_LEFT} />
      <RightPanel cfg={C_RIGHT} />
      <LeftPanel cfg={D_LEFT} />
      <RightPanel cfg={D_RIGHT} />
      {TITLES.map((t) => (
        <SText key={t.text} x={8} y={t.y} size={25.5}>{t.text}</SText>
      ))}
    </svg>
  );
}
